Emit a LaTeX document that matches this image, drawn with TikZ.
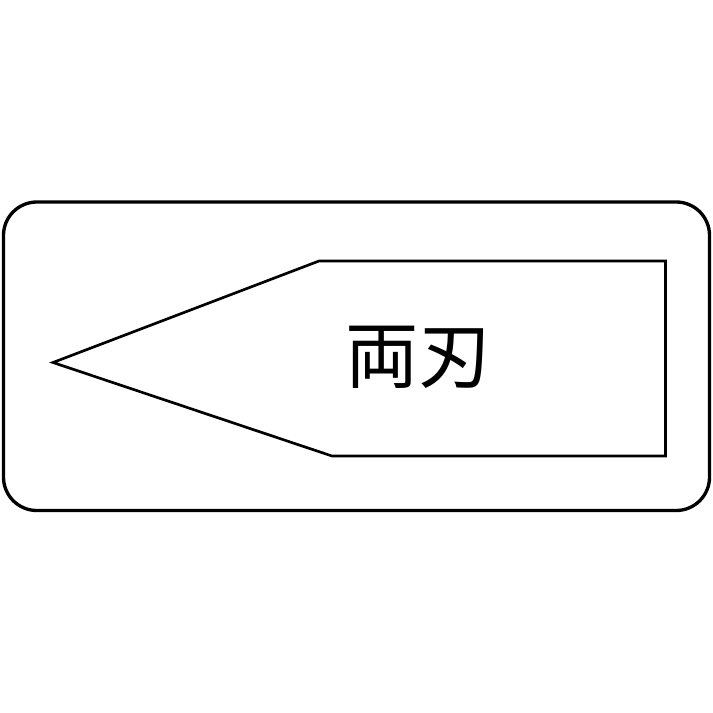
\documentclass[tikz,border=0pt]{standalone}
\usepackage{fontspec}
\newfontfamily\cjkfont{Noto Sans CJK JP}
\tikzset{every picture/.style={line width=0.75pt}}
\begin{document}
\begin{tikzpicture}[x=0.75pt,y=0.75pt,yscale=-1,xscale=1]
	\useasboundingbox (0,0) rectangle (713,713);

	%Rounded Rect [id:frame]
	\draw [line width=2.5pt, rounded corners=25pt]  (3.5,202) rectangle (709.5,510.5) ;
	%Shape: Blade [id:blade]
	\draw [line width=2pt, line join=miter]  (53,362.5) -- (319,261) -- (665.5,261) -- (665.5,456) -- (332,456) -- cycle ;

	% Text Node
	\node (label) at (418.5,357.5) {\cjkfont\fontsize{55}{60}\selectfont 両刃};

\end{tikzpicture}
\end{document}
